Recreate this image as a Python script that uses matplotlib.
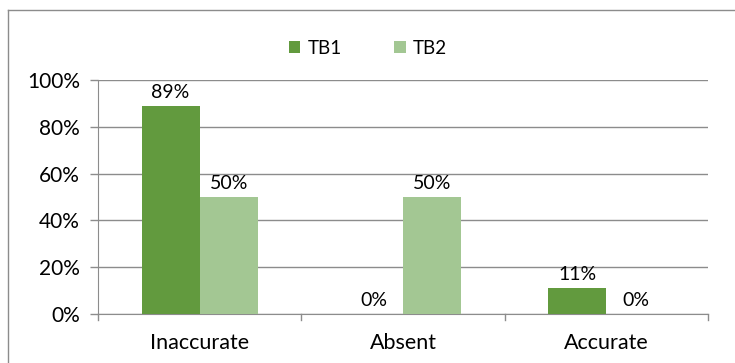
import matplotlib.pyplot as plt
from matplotlib.lines import Line2D
import numpy as np

categories = ["Inaccurate", "Absent", "Accurate"]
tb1 = [89, 0, 11]
tb2 = [50, 50, 0]
series_names = ["TB1", "TB2"]

dark_green = "#629a3e"
light_green = "#a3c793"
grid_color = "#8c8c8c"

plt.rcParams['font.family'] = ['Lato', 'DejaVu Sans']

fig = plt.figure(figsize=(7.35, 3.63), dpi=100)
ax = fig.add_axes([98 / 735, 1 - 314 / 363, 610 / 735, 234 / 363])

x = np.arange(len(categories))
w = 0.286
b1 = ax.bar(x - w / 2, tb1, w, color=dark_green, label=series_names[0], zorder=3)
b2 = ax.bar(x + w / 2, tb2, w, color=light_green, label=series_names[1], zorder=3)

for bars in (b1, b2):
    for rect in bars:
        h = rect.get_height()
        ax.annotate(f"{h:.0f}%", (rect.get_x() + rect.get_width() / 2, h),
                    xytext=(0, 3.5), textcoords="offset points",
                    ha="center", va="bottom", fontsize=14)

ax.set_xlim(-0.5, 2.5)
ax.set_ylim(0, 100)
ax.set_yticks(range(0, 101, 20))
ax.set_yticklabels([f"{v}%" for v in range(0, 101, 20)], fontsize=15)
ax.yaxis.grid(True, color=grid_color, linewidth=1, zorder=0)
ax.set_xticks(x)
ax.set_xticklabels(categories, fontsize=15.5)
ax.tick_params(axis="x", length=0, pad=14)
ax.tick_params(axis="y", length=6, color=grid_color, width=1, pad=7)

# category boundary ticks below the x axis
for b in [-0.5, 0.5, 1.5, 2.5]:
    ax.plot([b, b], [0, -2.6], color=grid_color, linewidth=1, clip_on=False, zorder=4)

for s in ["top", "right"]:
    ax.spines[s].set_visible(False)
ax.spines["left"].set_color(grid_color)
ax.spines["bottom"].set_color(grid_color)

ax.legend(loc="center", bbox_to_anchor=(368 / 735, 1 - 48 / 363),
          bbox_transform=fig.transFigure, ncol=2, frameon=False,
          fontsize=13.5, handlelength=0.6, handleheight=0.6,
          handletextpad=0.4, columnspacing=2.8)

# chart area border (only top and left visible in the crop)
fig.add_artist(Line2D([8 / 735, 1.0], [1 - 10 / 363, 1 - 10 / 363],
                      transform=fig.transFigure, color="#8c8c8c", linewidth=1))
fig.add_artist(Line2D([8 / 735, 8 / 735], [0.0, 1 - 10 / 363],
                      transform=fig.transFigure, color="#8c8c8c", linewidth=1))

fig.savefig("out.png", dpi=100)
